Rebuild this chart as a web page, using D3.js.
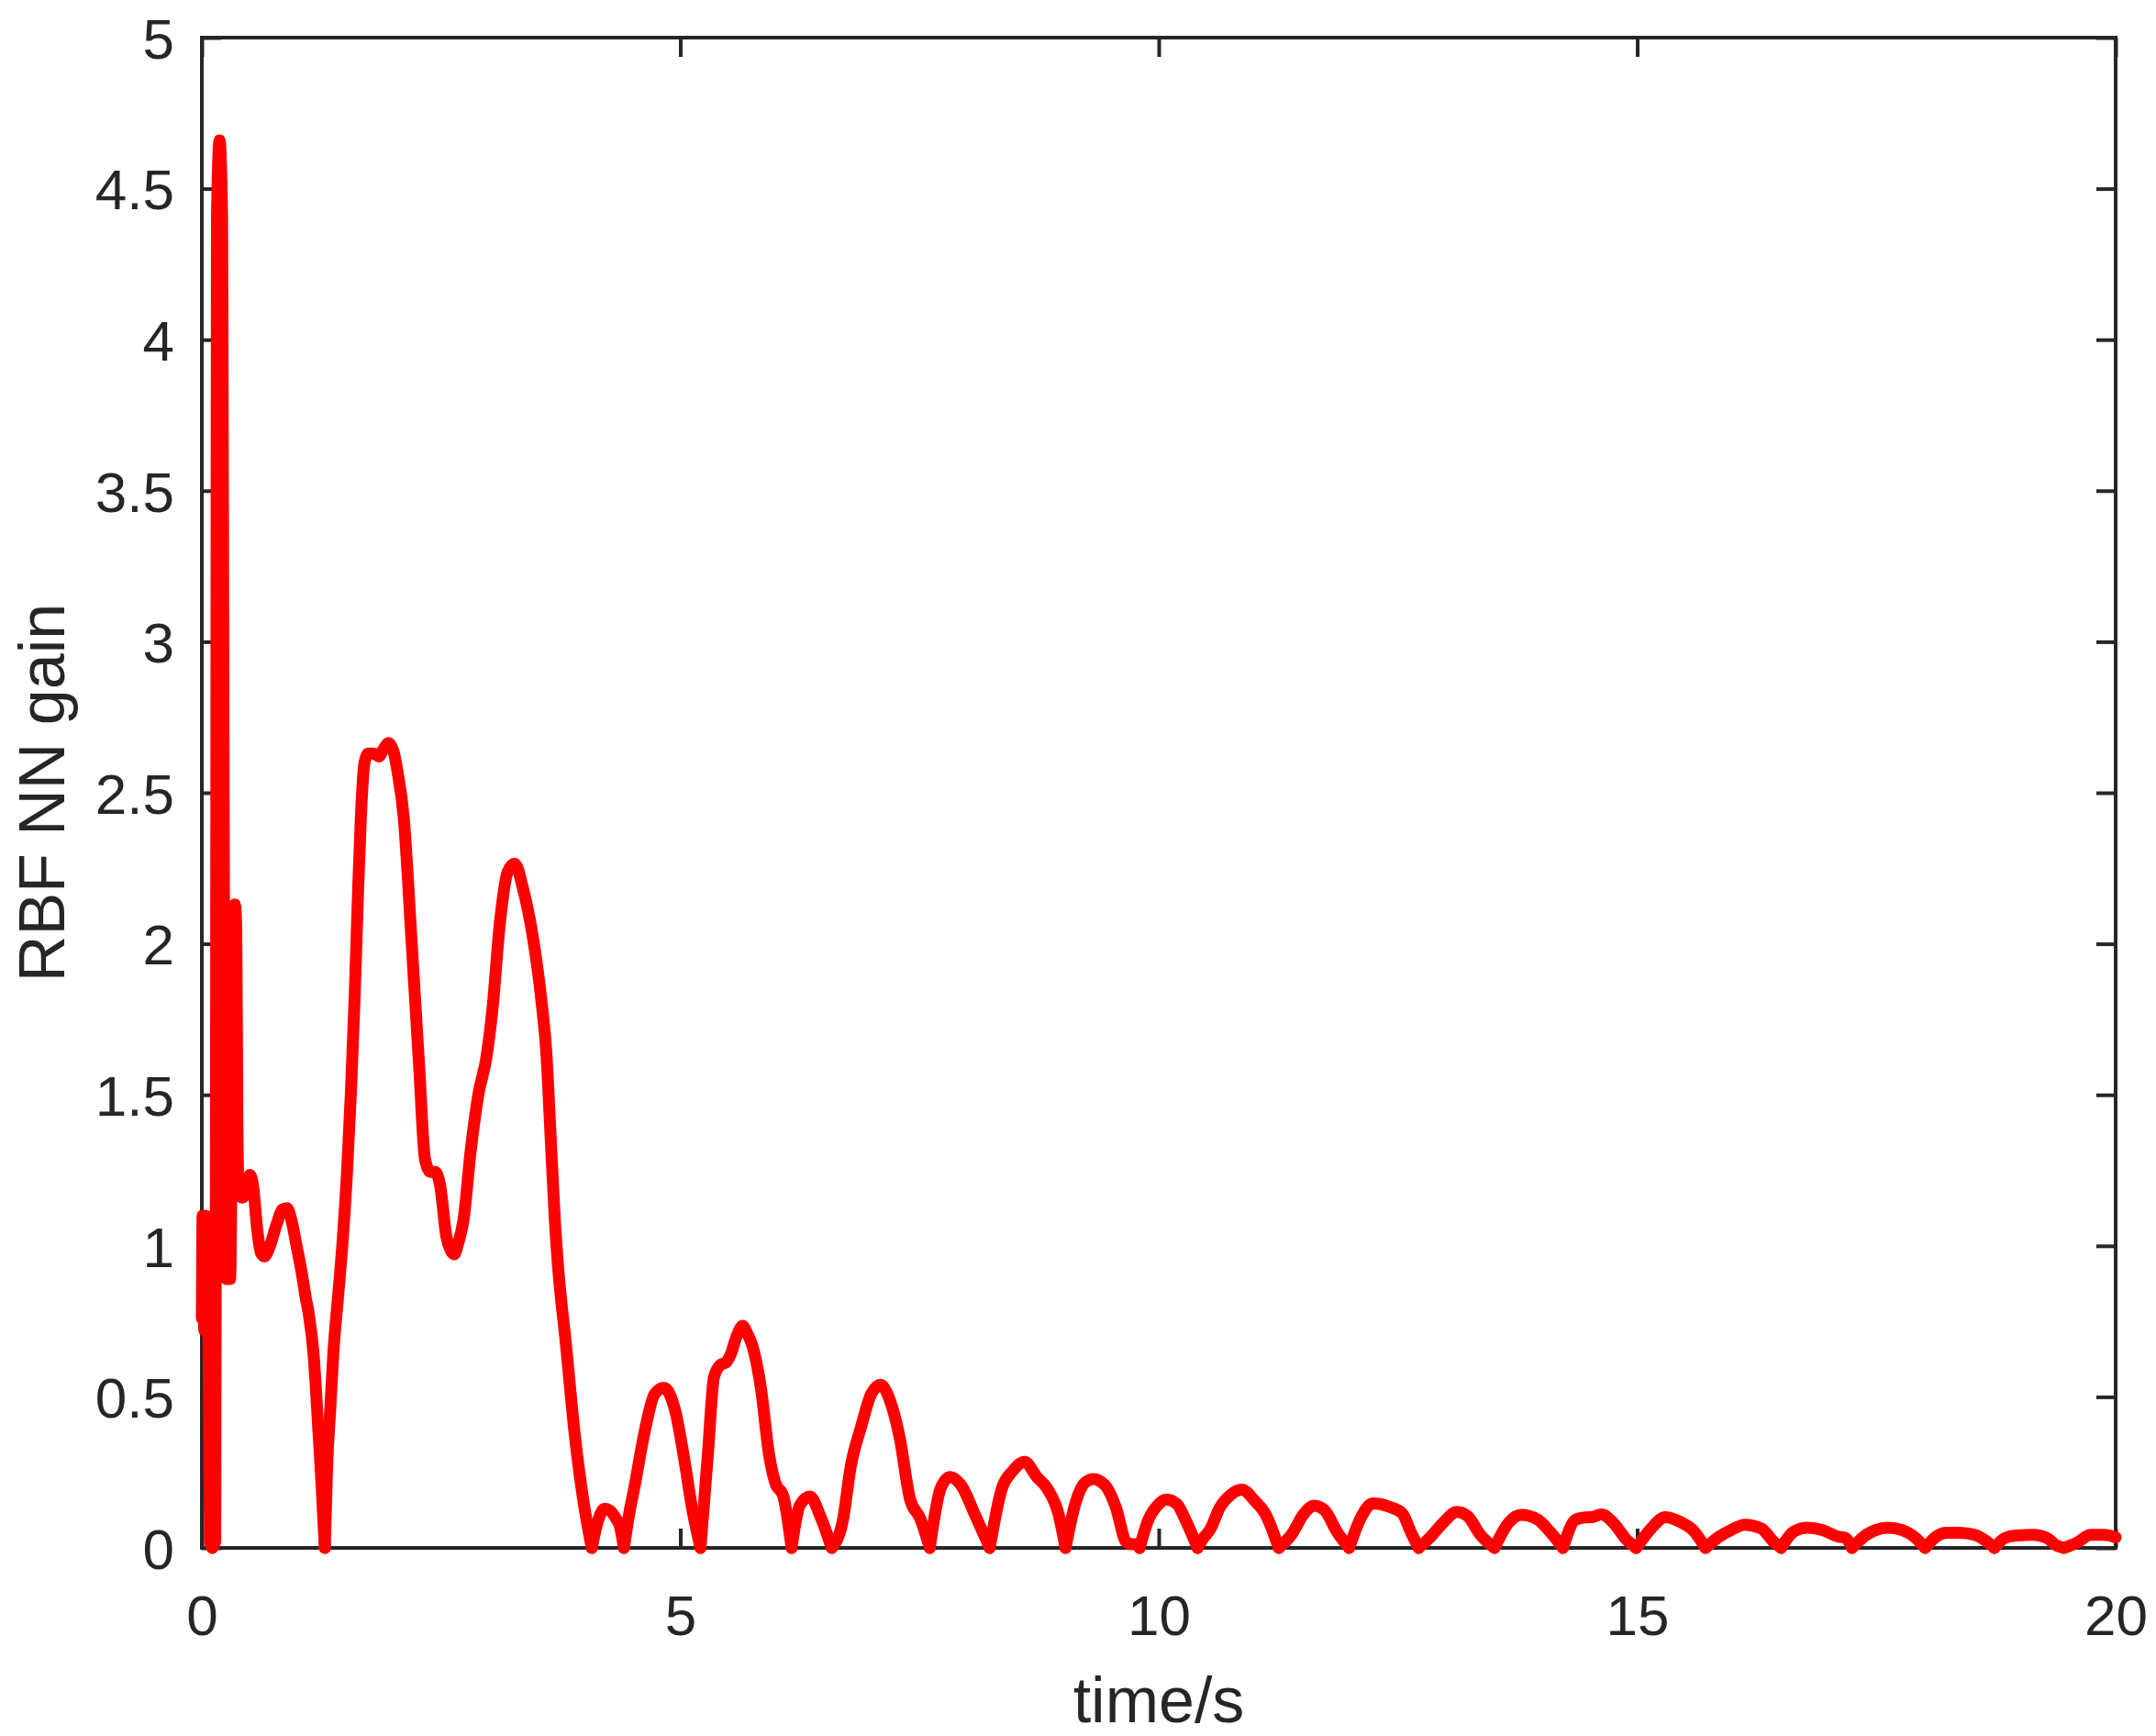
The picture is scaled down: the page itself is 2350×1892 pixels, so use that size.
<!DOCTYPE html>
<html>
<head>
<meta charset="utf-8">
<script src="https://cdn.jsdelivr.net/npm/d3@7"></script>
<style>
  html, body { margin: 0; padding: 0; background: #ffffff; }
  svg { display: block; }
  text { font-family: "Liberation Sans", Arial, Helvetica, sans-serif; fill: #262626; }
</style>
</head>
<body>
<svg id="chart" width="2350" height="1892"></svg>
<script>
// ---- data ----
const timeS = [
  0.000, 0.008, 0.025, 0.040, 0.060, 0.075, 0.085, 0.110, 0.140, 0.150, 0.158, 0.185, 0.212, 0.228, 0.245, 0.255,
  0.295, 0.315, 0.325, 0.345, 0.360, 0.372, 0.385, 0.420, 0.455, 0.500, 0.535, 0.580, 0.620, 0.655, 0.700, 0.780,
  0.840, 0.890, 0.940, 0.990, 1.040, 1.087, 1.119, 1.167, 1.215, 1.246, 1.285, 1.310, 1.342, 1.374, 1.422, 1.470,
  1.518, 1.560, 1.598, 1.630, 1.662, 1.700, 1.740, 1.800, 1.850, 1.900, 1.950, 2.000, 2.050, 2.109, 2.190, 2.270,
  2.333, 2.390, 2.440, 2.490, 2.557, 2.600, 2.637, 2.680, 2.733, 2.812, 2.892, 2.972, 3.036, 3.116, 3.196, 3.270,
  3.356, 3.452, 3.547, 3.600, 3.650, 3.690, 3.723, 3.803, 3.899, 3.990, 4.075, 4.140, 4.211, 4.260, 4.327, 4.370,
  4.410, 4.470, 4.519, 4.625, 4.733, 4.830, 4.946, 5.053, 5.117, 5.211, 5.288, 5.352, 5.416, 5.480, 5.523, 5.600,
  5.651, 5.700, 5.757, 5.843, 5.928, 5.992, 6.078, 6.163, 6.248, 6.355, 6.462, 6.582, 6.697, 6.782, 6.889, 6.996,
  7.094, 7.188, 7.294, 7.401, 7.508, 7.607, 7.722, 7.820, 7.936, 8.085, 8.234, 8.362, 8.469, 8.598, 8.726, 8.832,
  8.951, 9.026, 9.131, 9.229, 9.315, 9.443, 9.551, 9.660, 9.720, 9.770, 9.800, 9.893, 10.000, 10.078, 10.190, 10.278,
  10.406, 10.460, 10.535, 10.641, 10.749, 10.868, 11.006, 11.112, 11.254, 11.390, 11.519, 11.626, 11.733, 11.861, 11.990, 12.118,
  12.238, 12.418, 12.546, 12.632, 12.717, 12.846, 12.974, 13.116, 13.231, 13.360, 13.509, 13.659, 13.787, 13.959, 14.087, 14.224,
  14.360, 14.470, 14.530, 14.625, 14.760, 14.880, 14.990, 15.145, 15.296, 15.463, 15.582, 15.713, 15.861, 15.980, 16.127, 16.298,
  16.418, 16.505, 16.636, 16.776, 16.935, 17.094, 17.174, 17.245, 17.372, 17.491, 17.619, 17.770, 17.910, 18.009, 18.128, 18.228,
  18.367, 18.526, 18.645, 18.733, 18.844, 18.963, 19.142, 19.281, 19.381, 19.460, 19.600, 19.739, 19.878, 20.000
];
const gain = [
  0.76, 1.10, 0.72, 1.10, 1.08, 0.45, 0.02, 0.00, 0.02, 2.00, 4.40, 4.66, 4.40, 2.50, 1.00, 0.89,
  0.89, 1.50, 2.05, 2.13, 2.05, 1.40, 1.18, 1.16, 1.17, 1.235, 1.20, 1.05, 0.975, 0.965, 0.99, 1.07,
  1.12, 1.125, 1.08, 1.00, 0.918, 0.826, 0.771, 0.643, 0.405, 0.24, 0.00, 0.276, 0.46, 0.643, 0.826, 1.01,
  1.248, 1.523, 1.834, 2.146, 2.42, 2.60, 2.63, 2.63, 2.62, 2.645, 2.665, 2.64, 2.56, 2.421, 2.018, 1.60,
  1.285, 1.245, 1.245, 1.20, 1.028, 0.985, 0.972, 1.01, 1.083, 1.321, 1.505, 1.62, 1.78, 2.073, 2.238, 2.265,
  2.183, 2.036, 1.816, 1.64, 1.33, 1.08, 0.93, 0.68, 0.37, 0.15, 0.00, 0.09, 0.13, 0.125, 0.097, 0.07,
  0.00, 0.12, 0.198, 0.381, 0.51, 0.53, 0.455, 0.271, 0.143, 0.00, 0.308, 0.565, 0.605, 0.615, 0.638, 0.71,
  0.735, 0.71, 0.665, 0.528, 0.308, 0.216, 0.17, 0.00, 0.14, 0.17, 0.106, 0.00, 0.088, 0.271, 0.40, 0.51,
  0.54, 0.491, 0.363, 0.161, 0.097, 0.00, 0.198, 0.235, 0.207, 0.106, 0.00, 0.198, 0.253, 0.285, 0.235, 0.198,
  0.114, 0.00, 0.15, 0.216, 0.228, 0.206, 0.135, 0.02, 0.012, 0.012, 0.00, 0.094, 0.145, 0.16, 0.145, 0.094,
  0.00, 0.03, 0.06, 0.135, 0.175, 0.193, 0.155, 0.114, 0.00, 0.045, 0.114, 0.14, 0.125, 0.054, 0.00, 0.104,
  0.147, 0.135, 0.114, 0.054, 0.00, 0.038, 0.084, 0.119, 0.104, 0.044, 0.00, 0.084, 0.109, 0.094, 0.054, 0.00,
  0.094, 0.101, 0.102, 0.111, 0.08, 0.03, 0.00, 0.064, 0.102, 0.084, 0.059, 0.00, 0.038, 0.059, 0.077, 0.064,
  0.023, 0.00, 0.054, 0.067, 0.059, 0.038, 0.033, 0.00, 0.038, 0.059, 0.067, 0.059, 0.033, 0.00, 0.038, 0.05,
  0.05, 0.043, 0.023, 0.00, 0.033, 0.041, 0.043, 0.033, 0.008, 0.00, 0.018, 0.043, 0.043, 0.035
];
const xTicks = [0, 5, 10, 15, 20];
const yTicks = [0, 0.5, 1, 1.5, 2, 2.5, 3, 3.5, 4, 4.5, 5];
const xLabelText = "time/s";
const yLabelText = "RBF NN gain";

// ---- layout ----
const L = 220, R = 2306, T = 41, B = 1687;
const axisColor = "#262626";
const axisW = 4;
const tickLen = 21;
const tickFont = 62;
const labelFont = 70;

const svg = d3.select("#chart");
const x = d3.scaleLinear().domain([0, 20]).range([L, R]);
const y = d3.scaleLinear().domain([0, 5]).range([B, T]);

function styleAxis(g) {
  g.select(".domain").remove();
  g.selectAll(".tick line").attr("stroke", axisColor).attr("stroke-width", axisW);
}

// bottom axis with labels
const gB = svg.append("g").attr("transform", `translate(0,${B})`)
  .call(d3.axisBottom(x).tickValues(xTicks).tickSizeInner(-tickLen).tickSizeOuter(0).tickFormat(d3.format("d")));
styleAxis(gB);
gB.selectAll(".tick text").attr("y", 95).attr("dy", null)
  .attr("font-size", tickFont).attr("fill", axisColor).attr("font-family", null);

// top axis, no labels
const gT = svg.append("g").attr("transform", `translate(0,${T})`)
  .call(d3.axisTop(x).tickValues(xTicks).tickSizeInner(-tickLen).tickSizeOuter(0).tickFormat(""));
styleAxis(gT);

// left axis with labels
const gL = svg.append("g").attr("transform", `translate(${L},0)`)
  .call(d3.axisLeft(y).tickValues(yTicks).tickSizeInner(-tickLen).tickSizeOuter(0).tickFormat(d3.format("")));
styleAxis(gL);
gL.selectAll(".tick text").attr("x", -30).attr("dy", "0.36em")
  .attr("font-size", tickFont).attr("fill", axisColor).attr("font-family", null);

// right axis, no labels
const gR = svg.append("g").attr("transform", `translate(${R},0)`)
  .call(d3.axisRight(y).tickValues(yTicks).tickSizeInner(-tickLen).tickSizeOuter(0).tickFormat(""));
styleAxis(gR);

// box
svg.append("rect")
  .attr("x", L).attr("y", T).attr("width", R - L).attr("height", B - T)
  .attr("fill", "none").attr("stroke", axisColor).attr("stroke-width", axisW);

// axis labels
svg.append("text")
  .attr("x", (L + R) / 2).attr("y", 1877)
  .attr("text-anchor", "middle").attr("font-size", labelFont)
  .text(xLabelText);
svg.append("text")
  .attr("transform", `translate(70,${(T + B) / 2}) rotate(-90)`)
  .attr("text-anchor", "middle").attr("font-size", labelFont)
  .text(yLabelText);

// ---- the curve: split into arches at the zero cusps ----
const pts = timeS.map((t, i) => ({ t, v: gain[i] }));
const segments = [];
let cur = [pts[0]];
for (let i = 1; i < pts.length; i++) {
  cur.push(pts[i]);
  const isCusp = i < pts.length - 1 && pts[i].v === 0 && pts[i - 1].v > 0 && pts[i + 1].v > 0;
  if (isCusp) { segments.push(cur); cur = [pts[i]]; }
}
segments.push(cur);

const line = d3.line().x(d => x(d.t)).y(d => y(d.v)).curve(d3.curveMonotoneX);
svg.append("g").selectAll("path").data(segments).join("path")
  .attr("d", line)
  .attr("fill", "none")
  .attr("stroke", "#ff0000")
  .attr("stroke-width", 13)
  .attr("stroke-linejoin", "round")
  .attr("stroke-linecap", "round");
</script>
</body>
</html>
